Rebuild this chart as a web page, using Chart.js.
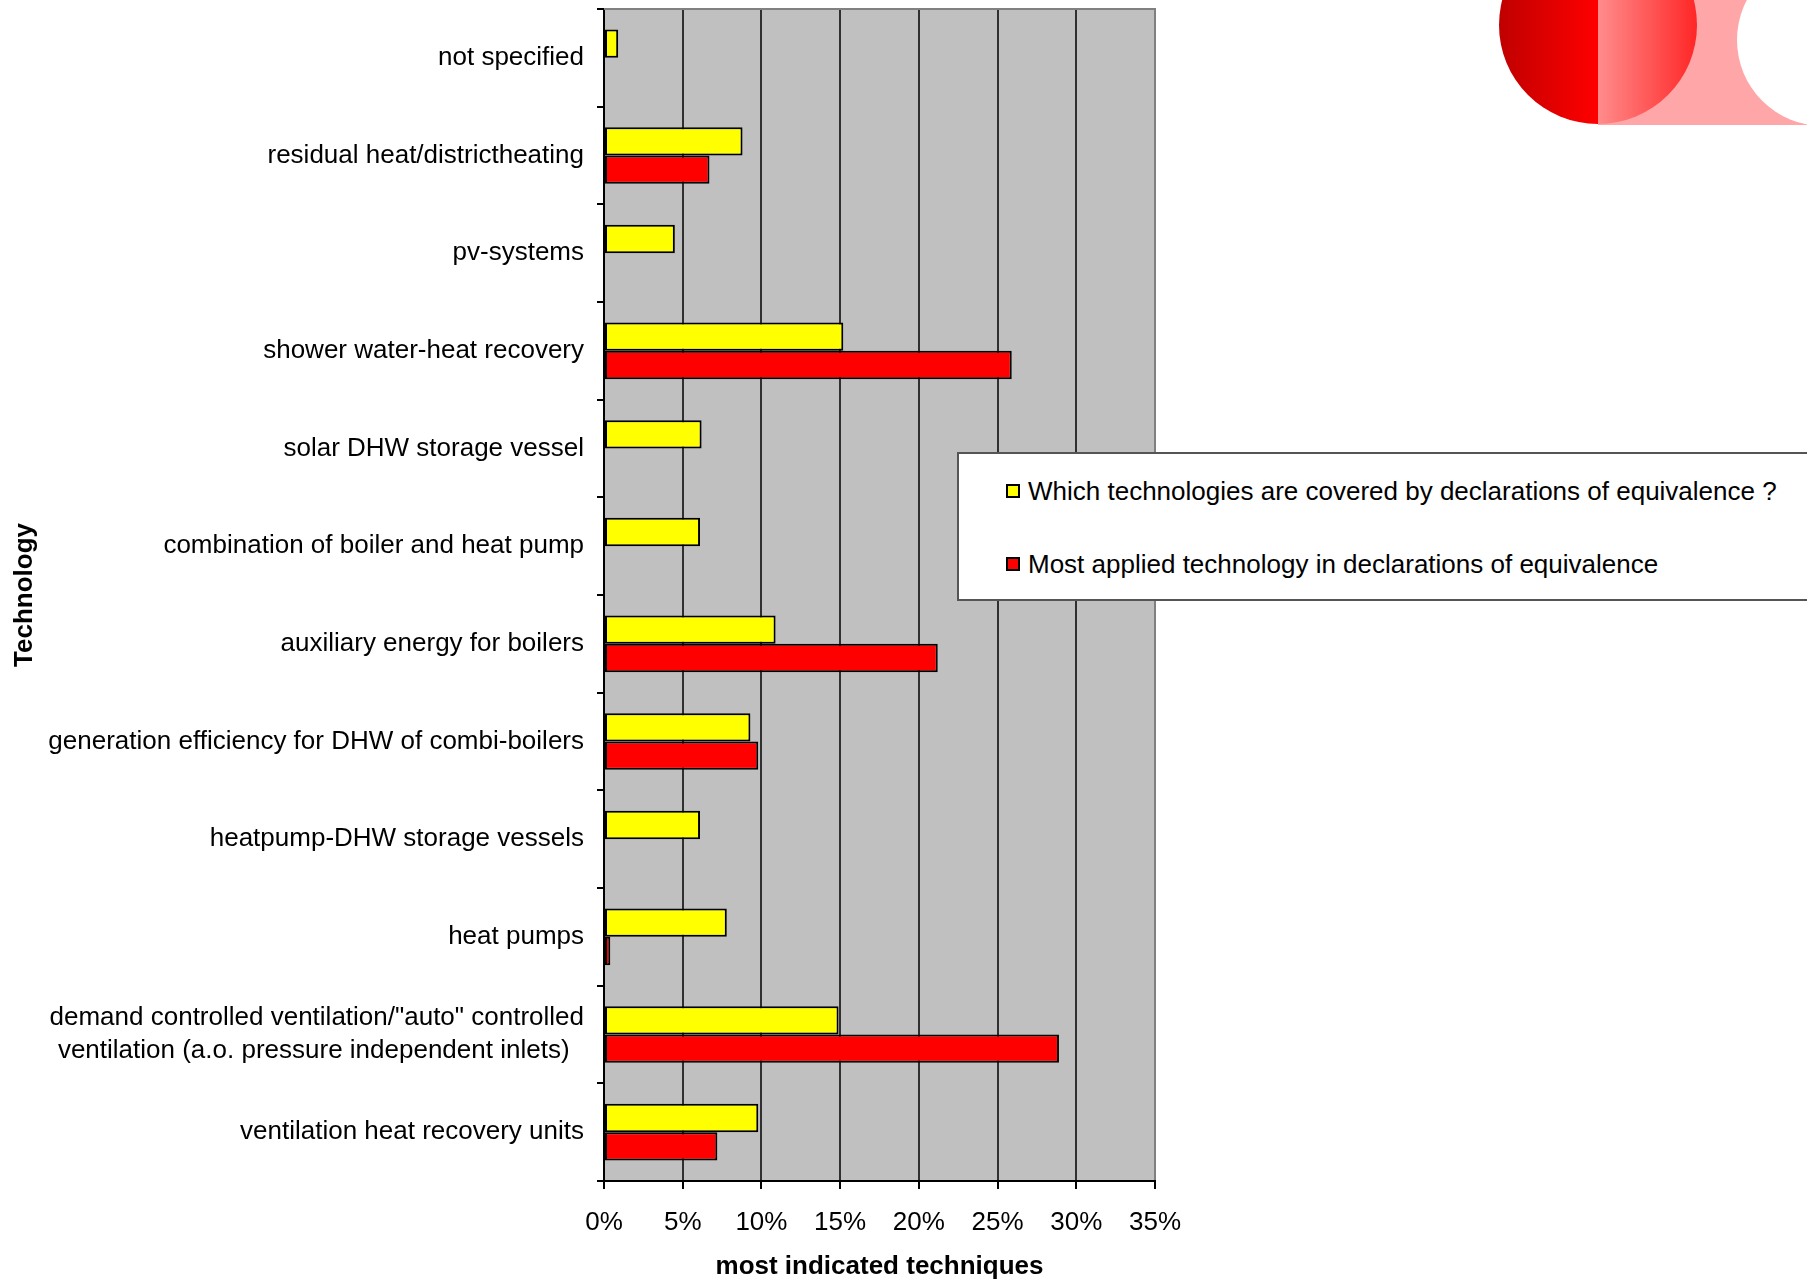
<!DOCTYPE html>
<html>
<head>
<meta charset="utf-8">
<script src="https://cdn.jsdelivr.net/npm/chart.js@4.4.1/dist/chart.umd.min.js"></script>
<style>
html,body{margin:0;padding:0;background:#fff;overflow:hidden;}
#wrap{position:relative;width:1807px;height:1282px;overflow:hidden;font-family:"Liberation Sans",Arial,sans-serif;}
#c{position:absolute;left:0;top:0;}
#pink{position:absolute;left:1598px;top:0;width:209px;height:125px;background:#FFA6A8;}
#hole{position:absolute;left:1737px;top:-46px;width:172px;height:172px;border-radius:50%;background:#fff;}
#ball{position:absolute;left:1499px;top:-74px;width:198px;height:198px;border-radius:50%;
  background:linear-gradient(to right,#C00000 0%,#FF0000 50%,#FF8C8C 50%,#FF2626 100%);}
#legend{position:absolute;left:957px;top:452px;width:880px;height:149px;box-sizing:border-box;
  border:2px solid #555;background:#fff;}
.li{position:absolute;left:47px;height:30px;line-height:30px;font-size:26px;color:#000;white-space:nowrap;}
.sw{display:inline-block;width:14px;height:14px;box-sizing:border-box;border:2px solid #000;margin-right:8px;vertical-align:middle;position:relative;top:-2px;}
</style>
</head>
<body>
<div id="wrap">
  <canvas id="c" width="1807" height="1282"></canvas>
  <div id="pink"></div><div id="hole"></div><div id="ball"></div>
  <div id="legend"></div>
</div>
<script>
// ---- data ----
const categories = [
  'not specified',
  'residual heat/districtheating',
  'pv-systems',
  'shower water-heat recovery',
  'solar DHW storage vessel',
  'combination of boiler and heat pump',
  'auxiliary energy for boilers',
  'generation efficiency for DHW of combi-boilers',
  'heatpump-DHW storage vessels',
  'heat pumps',
  ['demand controlled ventilation/"auto" controlled', 'ventilation (a.o. pressure independent inlets)'],
  'ventilation heat recovery units'
];
const seriesNames = [
  'Which technologies are covered by declarations of equivalence ?',
  'Most applied technology in declarations of equivalence'
];
const coveredValues = [0.9, 8.8, 4.5, 15.2, 6.2, 6.1, 10.9, 9.3, 6.1, 7.8, 14.9, 9.8];
const appliedValues = [null, 6.7, null, 25.9, null, null, 21.2, 9.8, null, 0.4, 28.9, 7.2];
const xTickValues = [0, 5, 10, 15, 20, 25, 30, 35];
const seriesColors = ['#FFFF00', '#FF0000'];
const xTitle = 'most indicated techniques';
const yTitle = 'Technology';

// ---- helpers ----
const FONT_FAMILY = '"Liberation Sans", Arial, sans-serif';
const measureCtx = document.createElement('canvas').getContext('2d');
function centerLines(lines) {
  measureCtx.font = '26px ' + FONT_FAMILY;
  const widths = lines.map(l => measureCtx.measureText(l).width);
  const max = Math.max(...widths);
  const sp = measureCtx.measureText(' ').width;
  return lines.map((l, i) => l + ' '.repeat(Math.round((max - widths[i]) / 2 / sp)));
}

Chart.defaults.font.family = FONT_FAMILY;
Chart.defaults.color = '#000';

const bgPlugin = {
  id: 'plotBg',
  beforeDraw(chart) {
    const {ctx, chartArea: a} = chart;
    ctx.save();
    ctx.fillStyle = '#C0C0C0';
    ctx.fillRect(a.left, a.top, a.right - a.left, a.bottom - a.top);
    ctx.restore();
  },
  afterDraw(chart) {
    const {ctx, chartArea: a} = chart;
    ctx.save();
    ctx.strokeStyle = '#808080';
    ctx.lineWidth = 2;
    ctx.beginPath();
    ctx.moveTo(a.left, a.top);
    ctx.lineTo(a.right + 1, a.top);
    ctx.stroke();
    ctx.restore();
  }
};

const chart = new Chart(document.getElementById('c'), {
  type: 'bar',
  data: {
    labels: categories,
    datasets: [
      {label: seriesNames[0], data: coveredValues, backgroundColor: seriesColors[0]},
      {label: seriesNames[1], data: appliedValues, backgroundColor: seriesColors[1]}
    ]
  },
  options: {
    indexAxis: 'y',
    responsive: false,
    animation: false,
    devicePixelRatio: 1,
    layout: {padding: {top: 9, right: 652, left: 0, bottom: 0}},
    datasets: {
      bar: {
        borderColor: '#000',
        borderWidth: 2,
        borderSkipped: false,
        categoryPercentage: 0.58,
        barPercentage: 1.0
      }
    },
    plugins: {
      legend: {display: false},
      tooltip: {enabled: false}
    },
    scales: {
      x: {
        type: 'linear',
        min: 0,
        max: 35,
        afterBuildTicks: s => { s.ticks = xTickValues.map(v => ({value: v})); },
        afterFit: s => { s.height = 101; s.paddingLeft = 0; s.paddingRight = 0; },
        ticks: {
          callback: v => v + '%',
          font: {size: 26},
          color: '#000',
          padding: 18,
          maxRotation: 0
        },
        grid: {
          color: ctx => (ctx.tick && ctx.tick.value === 35) ? '#808080' : '#303030',
          lineWidth: 2,
          tickColor: '#000',
          tickLength: 8,
          drawTicks: true
        },
        border: {display: true, color: '#000', width: 2},
        title: {
          display: true,
          text: xTitle,
          font: {size: 26, weight: 'bold'},
          color: '#000',
          padding: {top: 0, bottom: 0}
        }
      },
      y: {
        type: 'category',
        afterFit: s => { s.width = 604; s.paddingTop = 0; s.paddingBottom = 0; },
        ticks: {
          autoSkip: false,
          font: {size: 26, lineHeight: 1.28},
          color: '#000',
          padding: 13,
          callback: function (value) {
            const lab = this.getLabelForValue(value);
            return Array.isArray(lab) ? centerLines(lab) : lab;
          }
        },
        grid: {
          offset: true,
          drawOnChartArea: false,
          drawTicks: true,
          tickLength: 7,
          color: '#000',
          lineWidth: 2
        },
        border: {display: true, color: '#000', width: 2},
        title: {
          display: true,
          text: yTitle,
          font: {size: 26, weight: 'bold'},
          color: '#000',
          padding: {top: 9, bottom: 0}
        }
      }
    }
  },
  plugins: [bgPlugin]
});

// HTML legend built from the chart's datasets
const legendEl = document.getElementById('legend');
const rowCenters = [37, 110];
chart.data.datasets.forEach((ds, i) => {
  const row = document.createElement('div');
  row.className = 'li';
  row.style.top = (rowCenters[i] - 15) + 'px';
  const sw = document.createElement('span');
  sw.className = 'sw';
  sw.style.background = ds.backgroundColor;
  row.appendChild(sw);
  row.appendChild(document.createTextNode(ds.label));
  legendEl.appendChild(row);
});
</script>
</body>
</html>
